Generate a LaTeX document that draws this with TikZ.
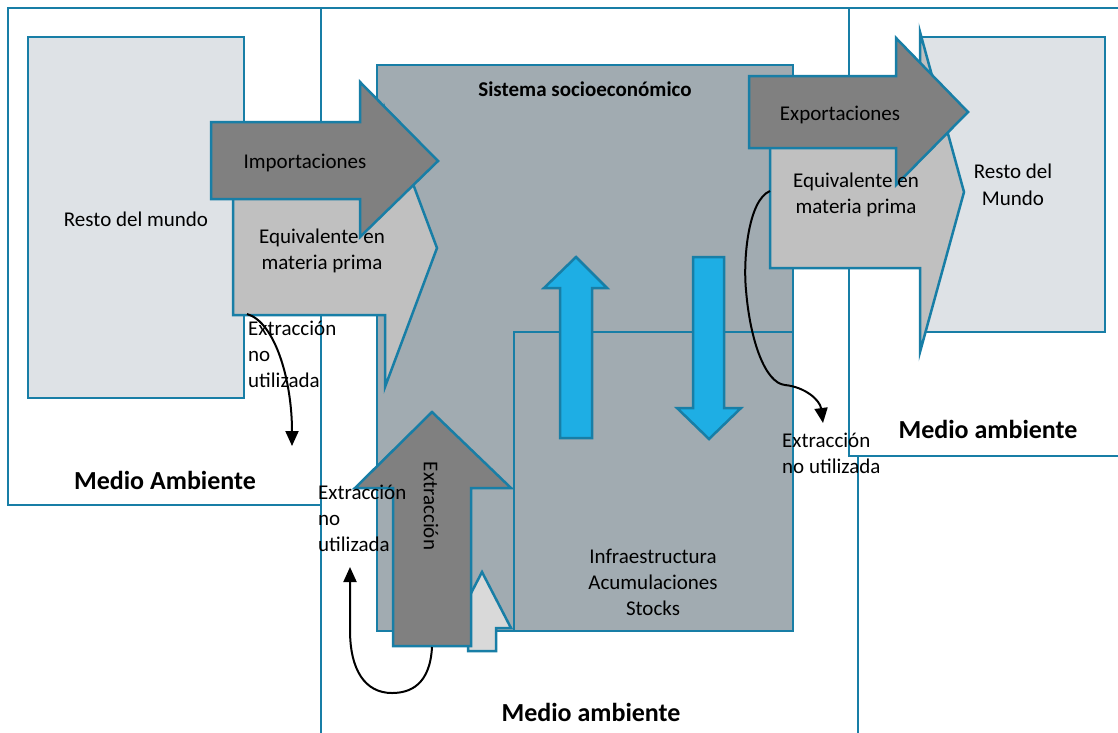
\documentclass[tikz,border=0pt]{standalone}
\usepackage{fontspec}
\setmainfont{Carlito}
\usetikzlibrary{arrows.meta}
\definecolor{edge}{HTML}{187EA6}
\definecolor{worldfill}{HTML}{DEE2E6}
\definecolor{sociofill}{HTML}{A1ABB1}
\definecolor{darkfill}{HTML}{808080}
\definecolor{lightfill}{HTML}{C0C0C0}
\definecolor{palefill}{HTML}{D9D9D9}
\definecolor{bluefill}{HTML}{1EAEE4}
\begin{document}
\begin{tikzpicture}[x=1pt,y=-1pt,
  envbox/.style={draw=edge,line width=2.2pt,fill=white},
  worldbox/.style={draw=edge,line width=2.5pt,fill=worldfill},
  sociobox/.style={draw=edge,line width=2.5pt,fill=sociofill},
  darkarrow/.style={draw=edge,line width=2.5pt,fill=darkfill,line join=miter},
  lightarrow/.style={draw=edge,line width=2.5pt,fill=lightfill,line join=miter},
  palearrow/.style={draw=edge,line width=2.5pt,fill=palefill,line join=miter},
  bluearrow/.style={draw=edge,line width=2.5pt,fill=bluefill,line join=miter},
  lbl/.style={font=\fontsize{21}{26}\selectfont,inner sep=0pt,align=center,anchor=base},
  lbll/.style={font=\fontsize{21}{26}\selectfont,inner sep=0pt,align=left,anchor=base west},
  bold/.style={font=\fontsize{26}{31}\selectfont\bfseries,inner sep=0pt,anchor=base},
  flow/.style={draw=black,line width=2pt,-{Triangle[length=15pt,width=13pt]}}]
\useasboundingbox (0,0) rectangle (1118,732);
% environment boxes
\path[envbox] (8,8) rectangle (321,505);
\path[envbox] (321,8) rectangle (858,745);
\path[envbox] (849,8) rectangle (1130,456);
% rest of world (left)
\path[worldbox] (28,37) rectangle (244,398);
% socio-economic system
\path[sociobox] (377,65) rectangle (793,631);
\path[sociobox] (514,332) rectangle (793,631);
% blue arrows
\path[bluearrow] (560,438) -- (560,288) -- (544,288) -- (576,257) -- (607,288) -- (592,288) -- (592,438) -- cycle;
\path[bluearrow] (693,257) -- (724,257) -- (724,408) -- (741,408) -- (709,439) -- (677,408) -- (693,408) -- cycle;
% imports
\path[lightarrow] (233,181) -- (385,181) -- (385,109) -- (437,248) -- (385,387) -- (385,315) -- (233,315) -- cycle;
\path[darkarrow] (211,122) -- (360,122) -- (360,82) -- (438,161) -- (360,237) -- (360,199) -- (211,199) -- cycle;
% extraction
\path[palearrow] (468,651) -- (468,628) -- (453,628) -- (482,572) -- (511,628) -- (496,628) -- (496,651) -- cycle;
\path[darkarrow] (393,646) -- (393,488) -- (355,488) -- (432,412) -- (511,488) -- (471,488) -- (471,646) -- cycle;
% rest of world (right)
\path[worldbox] (921,37) rectangle (1105,332);
% exports
\path[lightarrow] (770,116) -- (920,116) -- (920,32) -- (964,192) -- (920,352) -- (920,268) -- (770,268) -- cycle;
\path[darkarrow] (749,76) -- (896,76) -- (896,38) -- (968,112) -- (896,185) -- (896,148) -- (749,148) -- cycle;
% texts
\node[lbl] (rml) at (136,226) {Resto del mundo};
\node[lbl] (imp) at (305,168) {Importaciones};
\node[lbl] (eqi) at (322,269) {Equivalente en\\materia prima};
\node[lbl] (exp) at (840,120) {Exportaciones};
\node[lbl] (eqe) at (856,213) {Equivalente en\\materia prima};
\node[lbl,font=\fontsize{21}{27}\selectfont] (rmr) at (1013,205) {Resto del\\Mundo};
\node[bold] (mal) at (165,489) {Medio Ambiente};
\node[bold] (mam) at (591,721) {Medio ambiente};
\node[bold] (mar) at (988,438) {Medio ambiente};
\node[font=\fontsize{21}{26}\selectfont\bfseries,inner sep=0pt,anchor=base] (sse) at (585,96) {Sistema socioeconómico};
\node[lbl] (inf) at (653,615) {Infraestructura\\Acumulaciones\\Stocks};
\node[lbll] (enl) at (248,387) {Extracción\\no\\utilizada};
\node[lbll] (enm) at (318,551) {Extracción\\no\\utilizada};
\node[lbll] (enr) at (782,473) {Extracción\\no utilizada};
\node[font=\fontsize{21}{26}\selectfont,inner sep=0pt,rotate=-90] (ext) at (431,506) {Extracción};
% unused extraction flows
\coordinate (s1) at (247,314);
\coordinate (e1) at (292,446);
\coordinate (s2) at (770,191);
\coordinate (e2) at (823,423);
\coordinate (s3) at (432,647);
\coordinate (e3) at (350,567);
\draw[flow] (s1) .. controls (275,322) and (292,380) .. (e1);
\draw[flow] (s2) .. controls (748,200) and (743,260) .. (746,290) .. controls (750,340) and (765,383) .. (785,385) .. controls (805,387) and (820,400) .. (e2);
\draw[flow] (s3) .. controls (430,685) and (410,693) .. (392,693) .. controls (365,693) and (350,670) .. (350,630) -- (e3);
\end{tikzpicture}
\end{document}
